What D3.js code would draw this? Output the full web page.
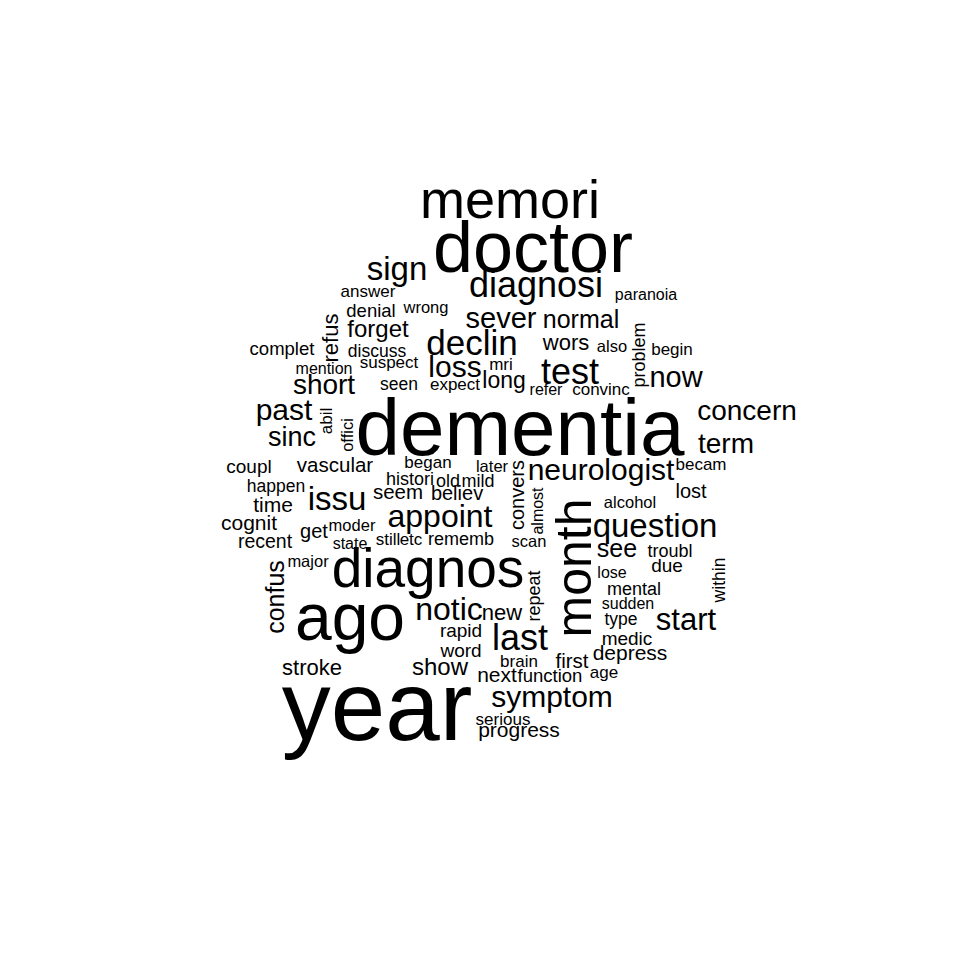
<!DOCTYPE html>
<html>
<head>
<meta charset="utf-8">
<script src="https://cdn.jsdelivr.net/npm/d3@7"></script>
<style>
html,body{margin:0;padding:0;background:#fff;}
svg{display:block;}
</style>
</head>
<body>
<script>
// words of the cloud
const words = ["year","dementia","doctor","ago","memori","diagnos","month","diagnosi","declin","test",
"appoint","question","sign","issu","last","notic","neurologist","symptom","start","loss",
"past","now","sever","short","concern","term","sinc","normal","see","confus",
"forget","show","long","wors","new","refus","stroke","time","cognit","next",
"depress","progress","vascular","seem","believ","get","convers","lost","first","recent",
"coupl","complet","histori","denial","word","rapid","medic","due","mild","old",
"rememb","repeat","problem","mental","troubl","function","within","discuss","happen","type",
"seen","began","suspect","answer","expect","mri","abil","becam","begin","brain",
"age","still","etc","serious","state","moder","major","scan","almost","later",
"alcohol","also","wrong","offici","mention","convinc","refer","paranoia","lose","sudden"];
// relative weight (frequency) of each word
const weights = [98,80,72,66,54,55,50,36,35,36,
32,33,33,33,36,32,30,30,31,30,
30,29,29,28,28,28,27,25,25,25,
24,24,23,22,22,22,22,21,21,21,
21,21,20.5,20.5,20,20,20,20,20.5,19.5,
19,18.5,18,18.5,19,19,19,19,18,18,
18,18,18,18,18,18.5,17.5,17.5,17.5,17.5,
17.5,17,17,17,17,17,17,17,17,17,
17,17,17,17,16,16.5,16.5,16.5,16,16.5,
16.5,16.5,16.5,16.5,16,17,16,16,16,16];
// layout position of each word (anchor: centre / baseline) in the cloud's 960-unit frame
const posX = [377,520,533,350,510,428,591,536,472,570,
440,655,397,337,520,449,601,552,686,455,
284,676,501,324,747,726,292,581,617,284,
378,440,504,566,502,338,312,273,249,497,
630,519,335,398,457,314,524,691,572,265,
249,282,410,371,461,461,627,667,478,448,
461,540,645,634,670,550,725,377,276,621,
399,428,389,368,455,501,332,701,672,519,
604,388,411,503,350,352,308,529,543,492,
630,612,426,353,324,601,546,646,612,628];
const posY = [740,455,272,640,218,587,568,297,355,384,
527,537,280,510,650,620,480,707,630,377,
420,387,328,394,420,453,446,328,557,597,
337,675,388,350,620,338,675,512,530,682,
660,737,472,499,500,538,495,498,668,548,
473,355,485,317,657,637,645,572,487,487,
545,596,355,595,557,682,580,357,492,625,
390,468,368,297,390,370,421,470,355,667,
678,545,545,725,549,531,567,547,511,472,
508,352,313,435,374,395,395,300,578,609];
// orientation: 1 = vertical (reads bottom to top), 0 = horizontal
const vertical = [0,0,0,0,0,0,1,0,0,0,
0,0,0,0,0,0,0,0,0,0,
0,0,0,0,0,0,0,0,0,1,
0,0,0,0,0,1,0,0,0,0,
0,0,0,0,0,0,1,0,0,0,
0,0,0,0,0,0,0,0,0,0,
0,1,1,0,0,0,1,0,0,0,
0,0,0,0,0,0,1,0,0,0,
0,0,0,0,0,0,0,0,1,0,
0,0,0,1,0,0,0,0,0,0];

const W = 960, H = 960;
const data = words.map((w,i)=>({text:w, weight:weights[i], x:posX[i], y:posY[i], v:vertical[i]}));

const xScale = d3.scaleLinear().domain([0,960]).range([0,W]);
const yScale = d3.scaleLinear().domain([0,960]).range([0,H]);
const sizeScale = d3.scaleLinear().domain([d3.min(weights), d3.max(weights)]).range([16, 98]);

const svg = d3.select("body").append("svg").attr("width",W).attr("height",H);
svg.append("rect").attr("width",W).attr("height",H).attr("fill","#fff");

svg.append("g").selectAll("text").data(data).join("text")
  .attr("transform", d => `translate(${xScale(d.x)},${yScale(d.y)})` + (d.v ? " rotate(-90)" : ""))
  .attr("text-anchor","middle")
  .attr("font-family","'Liberation Sans', Arial, Helvetica, sans-serif")
  .attr("font-size", d => sizeScale(d.weight) + "px")
  .attr("fill","#000")
  .text(d => d.text);
</script>
</body>
</html>
